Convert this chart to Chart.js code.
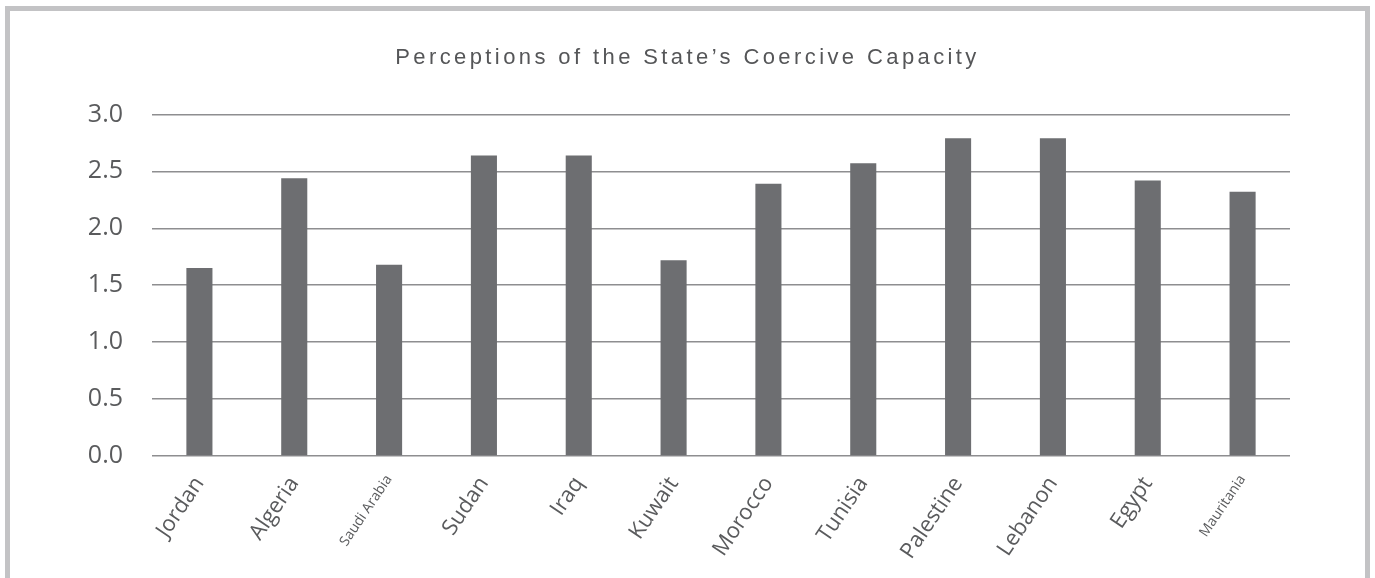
<!DOCTYPE html>
<html>
<head>
<meta charset="utf-8">
<script src="https://cdn.jsdelivr.net/npm/chart.js@4"></script>
<style>
  html, body { margin: 0; padding: 0; background: #fff; overflow: hidden; }
  #wrap { position: relative; width: 1375px; height: 578px; }
  #frame { position: absolute; left: 5px; top: 6px; width: 1355px; height: 700px; border: 5px solid #c3c3c5; }
  canvas { position: absolute; left: 0; top: 0; }
</style>
</head>
<body>
<div id="wrap">
  <div id="frame"></div>
  <canvas id="coerciveChart" width="1375" height="578"></canvas>
</div>
<script>
// Perceptions of the State's Coercive Capacity
var countries = ["Jordan", "Algeria", "Saudi Arabia", "Sudan", "Iraq", "Kuwait",
                 "Morocco", "Tunisia", "Palestine", "Lebanon", "Egypt", "Mauritania"];
var capacity = [1.65, 2.44, 1.68, 2.64, 2.64, 1.72, 2.39, 2.57, 2.79, 2.79, 2.42, 2.32];
var yTicks = [0, 0.5, 1.0, 1.5, 2.0, 2.5, 3.0];
// labels that the original prints in a smaller size
var smallLabels = ["Saudi Arabia", "Mauritania"];

var textGrey = '#5a5b5d';

// title with wide letter spacing, centred on the whole canvas like the original
var spacedTitle = {
    id: 'spacedTitle',
    afterInit: function (chart) {
        var tb = chart.titleBlock;
        if (!tb) return;
        var orig = tb.draw.bind(tb);
        tb.draw = function (area) {
            var c = chart.ctx;
            var shift = chart.width / 2 - (tb.left + tb.right) / 2;
            c.save();
            c.letterSpacing = '3.4px';
            c.translate(shift, 0);
            orig(area);
            c.restore();
        };
    }
};

var ctx = document.getElementById('coerciveChart').getContext('2d');
var coerciveChart = new Chart(ctx, {
    type: 'bar',
    data: {
        labels: countries,
        datasets: [{
            label: "Coercive capacity",
            backgroundColor: '#6d6e71',
            data: capacity,
            barPercentage: 0.275,
            categoryPercentage: 1.0
        }]
    },
    plugins: [spacedTitle],
    options: {
        responsive: false,
        animation: false,
        layout: { padding: { left: 11, right: 85, top: 0, bottom: 0 } },
        plugins: {
            legend: { display: false },
            tooltip: { enabled: false },
            title: {
                display: true,
                text: "Perceptions of the State\u2019s Coercive Capacity",
                color: '#555658',
                font: { family: 'Liberation Sans, Arial, sans-serif', size: 22, weight: 'normal' },
                padding: { top: 45, bottom: 43 }
            }
        },
        scales: {
            x: {
                grid: { display: false },
                border: { display: false },
                afterFit: function (s) { s.height = 122; },
                ticks: {
                    color: textGrey,
                    maxRotation: 56,
                    minRotation: 56,
                    autoSkip: false,
                    padding: 8,
                    font: function (c) {
                        var small = smallLabels.indexOf(countries[c.index]) >= 0;
                        return { family: 'Open Sans, sans-serif', size: small ? 14 : 22 };
                    }
                }
            },
            y: {
                min: 0,
                max: 3,
                afterFit: function (s) { s.width = 141; },
                afterBuildTicks: function (s) {
                    s.ticks = yTicks.map(function (v) { return { value: v }; });
                },
                border: { display: false },
                grid: { color: '#8e8e90', lineWidth: 1.5, drawTicks: false },
                ticks: {
                    color: textGrey,
                    padding: 29,
                    font: { family: 'Open Sans, sans-serif', size: 25 },
                    callback: function (v) { return Number(v).toFixed(1); }
                }
            }
        }
    }
});
</script>
</body>
</html>
